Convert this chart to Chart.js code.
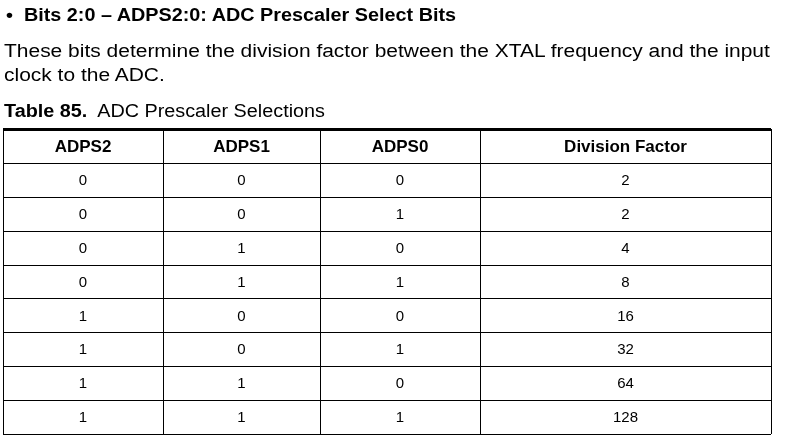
<!DOCTYPE html>
<html>
<head>
<meta charset="utf-8">
<script src="https://cdn.jsdelivr.net/npm/chart.js@4"></script>
<style>
  body { margin: 0; background: #fff; font-family: "Liberation Sans", Arial, sans-serif; }
  #wrap { position: relative; width: 786px; height: 447px; }
  canvas { position: absolute; left: 0; top: 0; }
  .t { position: absolute; color: #000; white-space: nowrap; transform-origin: 0 0; }
</style>
</head>
<body>
<div id="wrap">
  <canvas id="tabla" width="786" height="447"></canvas>
  <div class="t" style="left:6px;top:5px;font-size:18px;font-weight:bold;transform:scaleX(1.1);">•&nbsp; Bits 2:0 – ADPS2:0: ADC Prescaler Select Bits</div>
  <div class="t" style="left:4px;top:39px;font-size:18px;line-height:24px;transform:scaleX(1.165);">These bits determine the division factor between the XTAL frequency and the input<br>clock to the ADC.</div>
  <div class="t" style="left:4px;top:101px;font-size:18px;transform:scaleX(1.1);"><b>Table 85.</b>&nbsp; ADC Prescaler Selections</div>
</div>
<script>
// ── Datos ──
const columnas = ['ADPS2', 'ADPS1', 'ADPS0', 'Division Factor'];
const adps2 = [0, 0, 0, 0, 1, 1, 1, 1];
const adps1 = [0, 0, 1, 1, 0, 0, 1, 1];
const adps0 = [0, 1, 0, 1, 0, 1, 0, 1];
const factor = [2, 2, 4, 8, 16, 32, 64, 128];

// ── Bordes de columnas (escala x) ──
const bordesX = [3, 163, 320, 480, 771];

const tablaPlugin = {
  id: 'tabla',
  afterDraw(chart) {
    const { ctx, scales: { x, y } } = chart;
    const filas = [columnas].concat(factor.map((f, i) => [adps2[i], adps1[i], adps0[i], f]));
    const izq = x.getPixelForValue(bordesX[0]);
    const der = x.getPixelForValue(bordesX[bordesX.length - 1]);
    ctx.save();
    ctx.strokeStyle = '#000';
    for (let r = 0; r <= filas.length; r++) {
      const py = Math.round(y.getPixelForValue(r)) + 0.5;
      ctx.lineWidth = r === 0 ? 3 : 1;
      ctx.beginPath(); ctx.moveTo(izq, py); ctx.lineTo(der, py); ctx.stroke();
    }
    ctx.lineWidth = 1;
    const y0 = y.getPixelForValue(0), y1 = y.getPixelForValue(filas.length);
    for (const b of bordesX) {
      const px = Math.round(x.getPixelForValue(b)) + 0.5;
      ctx.beginPath(); ctx.moveTo(px, y0); ctx.lineTo(px, y1); ctx.stroke();
    }
    ctx.fillStyle = '#000';
    ctx.textAlign = 'center';
    ctx.textBaseline = 'middle';
    filas.forEach((fila, r) => {
      ctx.font = r === 0 ? 'bold 17px "Liberation Sans", Arial' : '15px "Liberation Sans", Arial';
      const cy = y.getPixelForValue(r + 0.5) + 1;
      fila.forEach((v, c) => {
        const cx = x.getPixelForValue((bordesX[c] + bordesX[c + 1]) / 2);
        ctx.fillText(String(v), cx, cy);
      });
    });
    ctx.restore();
  }
};

new Chart(document.getElementById('tabla'), {
  type: 'scatter',
  data: { datasets: [{ data: [] }] },
  options: {
    responsive: false,
    animation: false,
    layout: { padding: { left: 3, right: 15, top: 129, bottom: 13 } },
    plugins: { legend: { display: false }, tooltip: { enabled: false } },
    scales: {
      x: { type: 'linear', display: false, min: 3, max: 771 },
      y: { type: 'linear', display: false, min: 0, max: 9, reverse: true }
    }
  },
  plugins: [tablaPlugin]
});
</script>
</body>
</html>
